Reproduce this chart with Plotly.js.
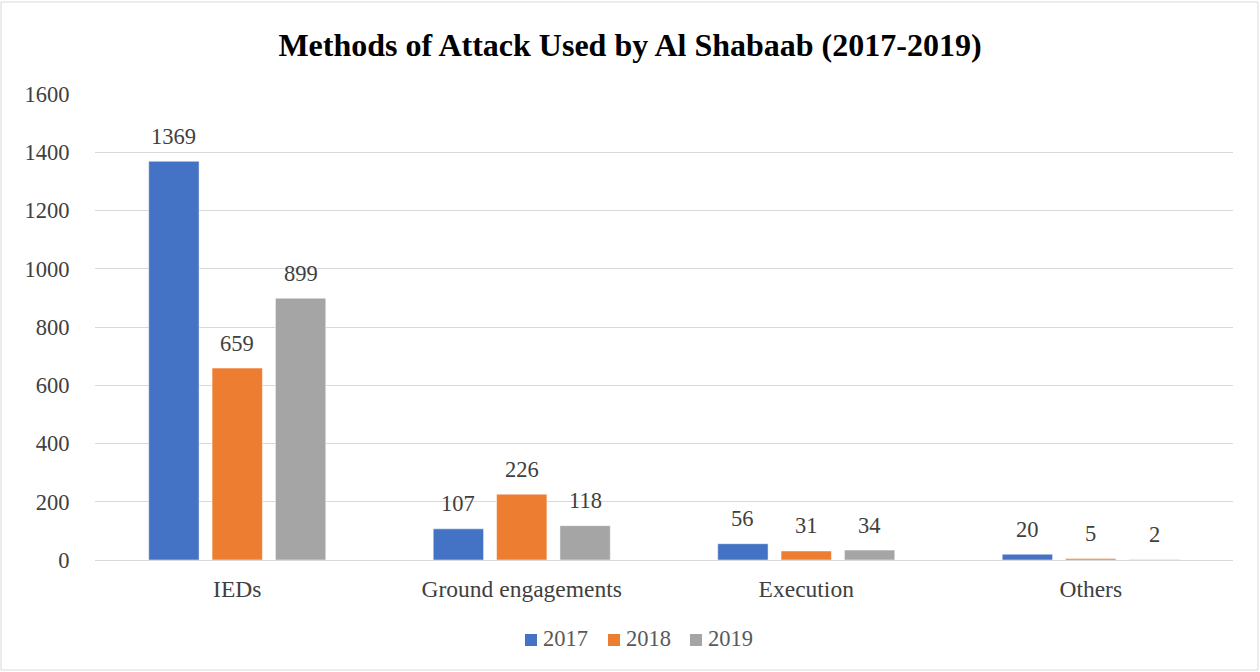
<!DOCTYPE html>
<html>
<head>
<meta charset="utf-8">
<script src="https://cdn.plot.ly/plotly-3.0.1.min.js"></script>
<style>
html,body{margin:0;padding:0;background:#fff;}
#chart{width:1260px;height:672px;}
</style>
</head>
<body>
<div id="chart"></div>
<script>
const categories = ["IEDs", "Ground engagements", "Execution", "Others"];
const years = ["2017", "2018", "2019"];
const values2017 = [1369, 107, 56, 20];
const values2018 = [659, 226, 31, 5];
const values2019 = [899, 118, 34, 2];
const colors = ["#4472C4", "#ED7D31", "#A5A5A5"];

const series = [values2017, values2018, values2019];
const font = "Liberation Serif";
const plotW = 1138, plotL = 95, plotH = 466, plotB = 560;
const px = x => (x - plotL) / plotW;
const py = y => (plotB - y) / plotH;

const traces = series.map((vals, i) => ({
  type: "bar",
  name: years[i],
  x: categories,
  y: vals,
  marker: {color: colors[i], line: {color: "#fff", width: 0.5}},
  hoverinfo: "x+y",
  showlegend: false
}));

// data labels as annotations placed via the axis scales
const slot = 63.3;
const annotations = [];
series.forEach((vals, i) => {
  vals.forEach((v, j) => {
    annotations.push({
      x: categories[j], y: v, xref: "x", yref: "y",
      text: String(v), showarrow: false,
      xshift: (i - 1) * slot, yshift: 25,
      yanchor: "middle", xanchor: "center",
      font: {family: font, size: 22.5, color: "#404040"}
    });
  });
});

// custom legend
const shapes = [];
const legendSquareX = [525, 608, 690];
years.forEach((yr, i) => {
  const sx = legendSquareX[i];
  shapes.push({
    type: "rect", xref: "paper", yref: "paper",
    x0: px(sx), x1: px(sx + 12), y0: py(646), y1: py(634),
    fillcolor: colors[i], line: {width: 0}
  });
  annotations.push({
    xref: "paper", yref: "paper",
    x: px(sx + 16), y: py(638),
    xanchor: "left", yanchor: "middle",
    text: yr, showarrow: false,
    font: {family: font, size: 22.5, color: "#595959"}
  });
});

shapes.push({
  type: "rect", xref: "paper", yref: "paper",
  x0: px(1), x1: px(1258),
  y0: py(670), y1: py(2),
  line: {color: "#D9D9D9", width: 1},
  fillcolor: "rgba(0,0,0,0)",
  layer: "below"
});

const layout = {
  width: 1260,
  height: 672,
  margin: {l: 95, r: 27, t: 94, b: 112},
  paper_bgcolor: "#fff",
  plot_bgcolor: "#fff",
  barmode: "group",
  bargap: 0.332,
  bargroupgap: 0.205,
  title: {
    text: "<b>Methods of Attack Used by Al Shabaab (2017-2019)</b>",
    font: {family: font, size: 32, color: "#000"},
    x: 0.5, xanchor: "center",
    y: 0.933, yanchor: "middle"
  },
  xaxis: {
    type: "category",
    tickfont: {family: font, size: 23.5, color: "#404040"},
    showgrid: false,
    showline: true,
    linecolor: "#D9D9D9",
    linewidth: 1,
    ticks: "",
    ticklabelstandoff: 8
  },
  yaxis: {
    range: [0, 1600],
    dtick: 200,
    tickfont: {family: font, size: 22.5, color: "#404040"},
    showgrid: true,
    gridcolor: "#D9D9D9",
    gridwidth: 1,
    zeroline: false,
    showline: false,
    ticks: "outside",
    ticklen: 20,
    tickcolor: "rgba(0,0,0,0)"
  },
  showlegend: false,
  annotations: annotations,
  shapes: shapes
};

Plotly.newPlot("chart", traces, layout, {displayModeBar: false, staticPlot: true});
</script>
</body>
</html>
